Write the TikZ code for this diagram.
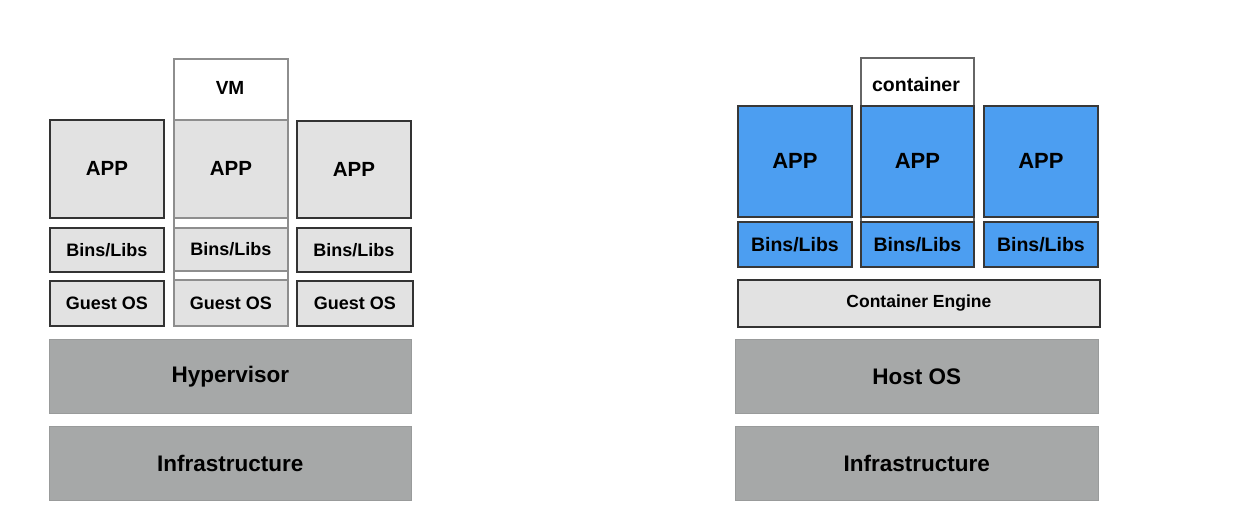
\documentclass[tikz,border=0pt]{standalone}
\usepackage{fontspec}
\setmainfont{Liberation Sans}
\usepackage{tikz}
\usetikzlibrary{positioning}

\definecolor{boxgray}{HTML}{E2E2E2}
\definecolor{bargray}{HTML}{A6A8A8}
\definecolor{appblue}{HTML}{4C9EF1}
\definecolor{edgegray}{HTML}{8E8E8E}

\def\fsz#1{\fontsize{#1}{#1}\selectfont\bfseries}

\tikzset{
	layer/.style={anchor=north west, inner sep=0pt, line width=1.8pt},
	greybox/.style={layer, draw=black!80, fill=boxgray},
	vmbox/.style={layer, draw=edgegray, fill=boxgray},
	bluebox/.style={layer, draw=black!78, fill=appblue},
	basebar/.style={layer, fill=bargray, draw=bargray!92!black, line width=0.6pt},
	frame/.style={layer, draw=edgegray, fill=white}
}

\begin{document}
\begin{tikzpicture}[x=1pt, y=-1pt]
			%%%%% START %%%%%
			
			\useasboundingbox (0, 0) rectangle (1236, 515);
			
			% virtual machines
			\node[frame, minimum width=114pt, minimum height=267pt] (vmframe) at (173, 58) {};
			\node[font=\fsz{19}] (vmlabel) at (230, 88) {VM};
			
			\node[greybox, minimum width=114pt, minimum height=98pt, font=\fsz{20.5}] (appA) at (49, 119) {APP};
			\node[vmbox, minimum width=114pt, minimum height=98pt, font=\fsz{20.5}] (appB) at (173, 119) {APP};
			\node[greybox, minimum width=114pt, minimum height=97pt, font=\fsz{20.5}] (appC) at (296, 120) {APP};
			
			\node[greybox, minimum width=114pt, minimum height=44pt, font=\fsz{18}] (binsA) at (49, 227) {Bins/Libs};
			\node[vmbox, minimum width=114pt, minimum height=43pt, font=\fsz{18}] (binsB) at (173, 227) {Bins/Libs};
			\node[greybox, minimum width=114pt, minimum height=44pt, font=\fsz{18}] (binsC) at (296, 227) {Bins/Libs};
			
			\node[greybox, minimum width=114pt, minimum height=45pt, font=\fsz{18}] (guestA) at (49, 280) {Guest OS};
			\node[vmbox, minimum width=114pt, minimum height=46pt, font=\fsz{18}] (guestB) at (173, 279) {Guest OS};
			\node[greybox, minimum width=116pt, minimum height=45pt, font=\fsz{18}] (guestC) at (296, 280) {Guest OS};
			
			\node[basebar, minimum width=362pt, minimum height=74pt, font=\fsz{22.5}] (hypervisor) at (49, 339) {Hypervisor};
			\node[basebar, minimum width=362pt, minimum height=74pt, font=\fsz{22.5}] (infraL) at (49, 426) {Infrastructure};
			
			% containers
			\node[frame, draw=black!60, minimum width=113pt, minimum height=209pt] (ctframe) at (860, 57) {};
			\node[font=\fsz{19.5}] (ctlabel) at (916, 85) {container};
			
			\node[bluebox, minimum width=114pt, minimum height=111pt, font=\fsz{22}] (capA) at (737, 105) {APP};
			\node[bluebox, minimum width=113pt, minimum height=111pt, font=\fsz{22}] (capB) at (860, 105) {APP};
			\node[bluebox, minimum width=114pt, minimum height=111pt, font=\fsz{22}] (capC) at (983, 105) {APP};
			
			\node[bluebox, minimum width=114pt, minimum height=45pt, font=\fsz{19.5}] (cbinsA) at (737, 221) {Bins/Libs};
			\node[bluebox, minimum width=113pt, minimum height=45pt, font=\fsz{19.5}] (cbinsB) at (860, 221) {Bins/Libs};
			\node[bluebox, minimum width=114pt, minimum height=45pt, font=\fsz{19.5}] (cbinsC) at (983, 221) {Bins/Libs};
			
			\node[greybox, minimum width=362pt, minimum height=47pt, font=\fsz{17.5}] (engine) at (737, 279) {Container Engine};
			
			\node[basebar, minimum width=363pt, minimum height=74pt, font=\fsz{22.5}] (hostos) at (735, 339) {Host OS};
			\node[basebar, minimum width=363pt, minimum height=74pt, font=\fsz{22.5}] (infraR) at (735, 426) {Infrastructure};
			
			%%%%% END %%%%%
		\end{tikzpicture}
\end{document}
